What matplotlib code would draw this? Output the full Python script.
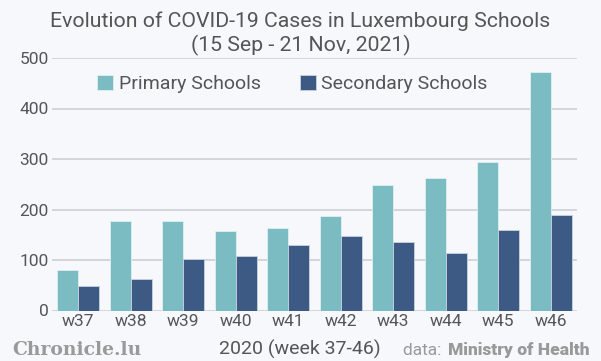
import matplotlib
matplotlib.use("Agg")
import matplotlib.pyplot as plt
import numpy as np

weeks = ["w37", "w38", "w39", "w40", "w41", "w42", "w43", "w44", "w45", "w46"]
primary = [80, 177, 178, 157, 163, 187, 248, 262, 294, 472]
secondary = [48, 62, 102, 108, 129, 147, 135, 113, 159, 190]
yticks = [0, 100, 200, 300, 400, 500]

BG = "#f6f8fc"
C_PRI = "#7bbcc2"
C_SEC = "#3d5a84"
TXT = "#555555"

plt.rcParams['font.family'] = ['Roboto', 'DejaVu Sans']

fig = plt.figure(figsize=(6.01, 3.61), dpi=100, facecolor=BG)
ax = fig.add_axes([52/601, 1 - 310.5/361, 525/601, 252.5/361], facecolor=BG)

x = np.arange(len(weeks))
w = 0.4
ax.bar(x - w/2, primary, w, color=C_PRI, edgecolor="#dff0f2", linewidth=0.6, label="Primary Schools", zorder=3)
ax.bar(x + w/2, secondary, w, color=C_SEC, edgecolor="#c9d3e0", linewidth=0.6, label="Secondary Schools", zorder=3)

ax.set_xlim(-0.5, len(weeks) - 0.5)
ax.set_ylim(0, 500)
ax.set_yticks(yticks)
ax.set_yticklabels([str(v) for v in yticks])
ax.set_xticks(x)
ax.set_xticklabels(weeks)
ax.grid(axis="y", color="#d0d3d8", linewidth=1.3, zorder=0)
ax.set_axisbelow(True)
for s in ax.spines.values():
    s.set_visible(False)
ax.tick_params(axis="both", length=0, labelsize=12.5, colors=TXT)
ax.tick_params(axis="y", pad=2.5)
ax.tick_params(axis="x", pad=2.5)

leg = fig.legend(*ax.get_legend_handles_labels(), loc="center left",
                 bbox_to_anchor=(97/601, 1 - 84/361), ncol=2, frameon=False,
                 fontsize=14, handlelength=0.82, handleheight=0.82, handletextpad=0.3,
                 columnspacing=2.0, labelcolor=TXT, borderpad=0, borderaxespad=0)

fig.text(0.5, 1 - 26.7/361, "Evolution of COVID-19 Cases in Luxembourg Schools",
         ha="center", va="baseline", fontsize=15.3, color=TXT)
fig.text(0.5, 1 - 51.7/361, "(15 Sep - 21 Nov, 2021)",
         ha="center", va="baseline", fontsize=15.3, color=TXT)

fig.text(12/601, 1 - 355/361, "Chronicle.lu", ha="left", va="baseline",
         fontsize=13.5, fontweight="bold", color="#9a9a9a", family=["DejaVu Serif"])
fig.text(300/601, 1 - 355/361, "2020 (week 37-46)", ha="center", va="baseline",
         fontsize=14, color=TXT)
fig.text(446/601, 1 - 355/361, "data: ", ha="right", va="baseline",
         fontsize=12.5, color="#999999")
fig.text(448/601, 1 - 355/361, "Ministry of Health", ha="left", va="baseline",
         fontsize=12.5, fontweight="black", color="#999999")

fig.savefig("out.png", dpi=100, facecolor=BG)
